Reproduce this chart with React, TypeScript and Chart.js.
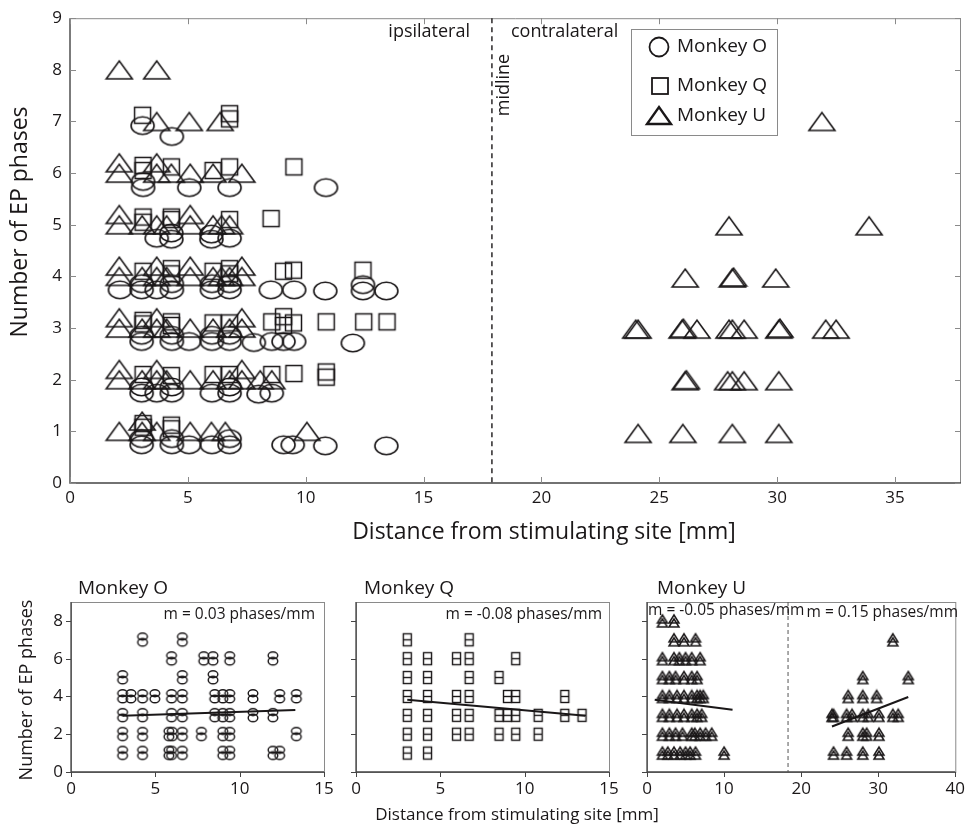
import React, { useEffect, useRef } from "react";
import { Chart, registerables } from "chart.js";
Chart.register(...registerables);

const FONT = "'Open Sans', 'Noto Sans', sans-serif";
const INK = "#1a1718";

// ---------- main chart data ----------
const mainTicksX = [0, 5, 10, 15, 20, 25, 30, 35];
const mainOX = [3.08, 4.32,
  3.1, 3.1, 5.06, 6.77, 10.86,
  3.68, 4.3, 4.3, 6.0, 6.0, 6.77,
  2.12, 3.04, 3.04, 3.68, 4.32, 4.32, 6.02, 6.02, 6.77, 6.77, 8.52, 9.51, 10.83, 12.43, 12.43, 13.42,
  3.04, 3.04, 4.32, 4.32, 5.05, 6.02, 6.02, 6.77, 6.77, 7.8, 8.56, 9.06, 9.51, 12.0,
  3.04, 3.04, 3.68, 4.32, 4.32, 6.02, 6.77, 6.77, 8.0, 8.56,
  3.04, 3.04, 4.32, 4.32, 5.05, 6.02, 6.77, 6.77, 9.06, 9.45, 10.83, 13.42];
const mainOY = [6.92, 6.71,
  5.72, 5.84, 5.72, 5.72, 5.72,
  4.74, 4.72, 4.84, 4.72, 4.82, 4.74,
  3.74, 3.74, 3.86, 3.74, 3.74, 3.86, 3.74, 3.86, 3.74, 3.86, 3.74, 3.74, 3.72, 3.72, 3.84, 3.72,
  2.74, 2.86, 2.74, 2.86, 2.74, 2.74, 2.86, 2.74, 2.86, 2.72, 2.74, 2.74, 2.74, 2.71,
  1.74, 1.86, 1.74, 1.74, 1.86, 1.74, 1.74, 1.86, 1.72, 1.74,
  0.74, 0.86, 0.74, 0.86, 0.74, 0.74, 0.74, 0.86, 0.74, 0.74, 0.72, 0.72];

const mainQX = [3.08, 6.77, 6.77,
  3.1, 3.1, 4.3, 6.07, 6.77, 9.5,
  3.1, 3.1, 4.3, 4.3, 6.77, 8.53,
  3.1, 4.3, 4.3, 6.07, 6.77, 6.77, 9.06, 9.48, 12.43,
  3.1, 3.1, 4.3, 4.3, 6.07, 6.77, 8.56, 9.06, 9.06, 9.48, 10.87, 12.46, 13.45,
  3.1, 4.3, 6.07, 6.77, 8.56, 9.5, 10.87, 10.87,
  3.1, 3.1, 4.3, 4.3];
const mainQY = [7.12, 7.05, 7.15,
  6.05, 6.15, 6.12, 6.05, 6.12, 6.12,
  5.05, 5.15, 5.1, 5.15, 5.1, 5.12,
  4.1, 4.05, 4.15, 4.1, 4.05, 4.15, 4.1, 4.12, 4.12,
  3.08, 3.15, 3.05, 3.12, 3.1, 3.1, 3.12, 3.05, 3.22, 3.1, 3.12, 3.12, 3.12,
  2.1, 2.08, 2.1, 2.1, 2.1, 2.12, 2.05, 2.15,
  1.08, 1.15, 1.05, 1.12];

const mainUX = [2.09, 3.68,
  3.68, 5.06, 6.37, 31.9,
  2.09, 3.68,
  2.09, 3.68, 4.3, 5.1, 6.07, 7.29,
  2.09, 5.1,
  2.09, 3.06, 3.68, 4.1, 5.1, 6.07, 6.43, 6.77,
  2.09, 3.68, 5.1, 7.29,
  2.09, 3.06, 3.68, 4.1, 5.1, 6.07, 6.43, 6.77, 7.29,
  2.09, 3.68, 7.29,
  2.09, 3.06, 3.68, 4.1, 5.1, 6.07, 6.77, 7.29,
  2.09, 3.68, 7.29,
  2.09, 3.06, 3.68, 4.1, 5.1, 6.07, 6.77, 7.29, 8.07, 8.56,
  3.06,
  2.09, 3.06, 3.68, 5.1, 6.0, 6.59, 10.05,
  27.96, 33.9,
  26.1, 28.1, 28.15, 29.94,
  24.0, 24.1, 25.97, 26.02, 26.6, 27.96, 28.1, 28.6, 30.07, 30.12, 32.06, 32.5,
  26.1, 26.15, 27.9, 28.1, 28.6, 30.07,
  24.1, 26.0, 28.1, 30.07];
const mainUY = [8, 8,
  7, 7, 7, 7,
  6.2, 6.2,
  6, 6, 6, 6, 6, 6,
  5.2, 5.2,
  5, 5, 5, 5, 5, 5, 5, 5,
  4.2, 4.2, 4.2, 4.2,
  4, 4, 4, 4, 4, 4, 4, 4, 4,
  3.2, 3.2, 3.2,
  3, 3, 3, 3, 3, 3, 3, 3,
  2.2, 2.2, 2.2,
  2, 2, 2, 2, 2, 2, 2, 2, 2, 2,
  1.2,
  1, 1, 1, 1, 1, 1, 1,
  4.98, 4.98,
  3.97, 3.97, 3.99, 3.97,
  2.98, 2.98, 2.98, 3.0, 2.98, 2.98, 2.98, 2.98, 2.98, 3.0, 2.98, 2.98,
  1.98, 2.0, 1.98, 1.98, 1.98, 1.98,
  0.96, 0.96, 0.96, 0.96];

// ---------- bottom panels data ----------
const botOX = [4.24, 6.6,
  5.96, 7.87, 8.42, 9.41, 11.97,
  3.06, 6.6, 8.42,
  3.06, 3.55, 4.24, 4.97, 5.96, 6.6, 8.52, 9.0, 9.41, 10.79, 12.37, 13.36,
  3.06, 4.24, 5.96, 6.6, 8.52, 9.0, 9.41, 10.79, 11.97,
  3.06, 4.24, 5.8, 6.0, 6.6, 7.73, 9.0, 9.41, 13.36,
  3.06, 4.24, 5.8, 5.96, 6.6, 9.0, 9.41, 11.97, 12.37];
const botOY = [7, 7,
  6, 6, 6, 6, 6,
  5, 5, 5,
  4, 4, 4, 4, 4, 4, 4, 4, 4, 4, 4, 4,
  3, 3, 3, 3, 3, 3, 3, 3, 3,
  2, 2, 2, 2, 2, 2, 2, 2, 2,
  1, 1, 1, 1, 1, 1, 1, 1, 1];
const fitOX = [3.06, 13.3];
const fitOY = [2.98, 3.28];

const botQX = [3.04, 6.71,
  3.04, 4.24, 5.96, 6.71, 9.47,
  3.04, 4.24, 6.71, 8.48,
  3.04, 4.24, 5.96, 6.71, 8.98, 9.47, 12.38,
  3.04, 4.24, 5.96, 6.71, 8.48, 8.98, 9.47, 10.8, 12.38, 13.4,
  3.04, 4.24, 5.96, 6.71, 8.48, 9.47, 10.8,
  3.04, 4.24];
const botQY = [7, 7,
  6, 6, 6, 6, 6,
  5, 5, 5, 5,
  4, 4, 4, 4, 4, 4, 4,
  3, 3, 3, 3, 3, 3, 3, 3, 3, 3,
  2, 2, 2, 2, 2, 2, 2,
  1, 1];
const fitQX = [3.04, 13.6];
const fitQY = [3.83, 2.98];

const botUX = [2.0, 3.5,
  3.5, 4.8, 6.3,
  2.0, 3.5, 4.2, 5.0, 5.8, 6.9,
  2.0, 2.9, 3.7, 4.8, 5.8, 6.5,
  2.0, 2.9, 3.9, 4.8, 5.8, 6.5, 6.9, 7.3,
  2.0, 2.9, 3.9, 4.8, 5.8, 6.5, 7.1,
  2.0, 2.9, 3.7, 4.6, 5.8, 6.2, 6.9, 7.6, 8.4,
  2.0, 2.7, 3.5, 4.3, 5.0, 5.6, 6.3, 10.0,
  31.9,
  28.0, 33.9,
  26.1, 28.0, 29.8,
  24.0, 24.2, 25.9, 26.6, 28.0, 28.7, 30.1, 31.9, 32.6,
  26.1, 28.0, 28.5, 30.1,
  24.2, 25.9, 28.0, 30.1];
const botUY = [8, 8,
  7, 7, 7,
  6, 6, 6, 6, 6, 6,
  5, 5, 5, 5, 5, 5,
  4, 4, 4, 4, 4, 4, 4, 4,
  3, 3, 3, 3, 3, 3, 3,
  2, 2, 2, 2, 2, 2, 2, 2, 2,
  1, 1, 1, 1, 1, 1, 1, 1,
  7,
  5, 5,
  4, 4, 4,
  3, 3, 3, 3, 3, 3, 3, 3, 3,
  2, 2, 2, 2,
  1, 1, 1, 1];
const fitULX = [1.0, 11.1];
const fitULY = [3.83, 3.3];
const fitURX = [24.0, 33.9];
const fitURY = [2.41, 3.97];

const MIDLINE_MAIN = 17.9;
const MIDLINE_U = 18.3;

const toPts = (xs: number[], ys: number[]) => xs.map((x, i) => ({ x, y: ys[i] }));

function makeCanvas(w: number, h: number, draw: (g: CanvasRenderingContext2D) => void) {
  const c = document.createElement("canvas");
  c.width = w;
  c.height = h;
  const g = c.getContext("2d")!;
  g.strokeStyle = INK;
  draw(g);
  return c;
}

function markers() {
  const ellipse = makeCanvas(27, 22, (g) => {
    g.lineWidth = 1.6;
    g.beginPath();
    g.ellipse(13.5, 11, 11.5, 8.8, 0, 0, Math.PI * 2);
    g.stroke();
  });
  const square = makeCanvas(21, 21, (g) => {
    g.lineWidth = 1.5;
    g.strokeRect(2.5, 2.5, 16, 16);
  });
  const tri = makeCanvas(30, 22, (g) => {
    g.lineWidth = 1.6;
    g.beginPath();
    g.moveTo(2, 20);
    g.lineTo(28, 20);
    g.lineTo(15, 2);
    g.closePath();
    g.stroke();
  });
  const smallO = makeCanvas(14, 17, (g) => {
    g.lineWidth = 1.4;
    g.beginPath();
    g.ellipse(7, 5.2, 4.8, 3.5, 0, 0, Math.PI * 2);
    g.stroke();
    g.beginPath();
    g.ellipse(7, 11, 4.8, 3.8, 0, 0, Math.PI * 2);
    g.stroke();
  });
  const smallQ = makeCanvas(13, 17, (g) => {
    g.lineWidth = 1.4;
    g.strokeRect(2.5, 2.5, 8, 12);
    g.beginPath();
    g.moveTo(2.5, 8.5);
    g.lineTo(10.5, 8.5);
    g.stroke();
  });
  const smallU = makeCanvas(14, 16, (g) => {
    g.lineWidth = 1.5;
    g.beginPath();
    g.moveTo(2, 10);
    g.lineTo(12, 10);
    g.lineTo(7, 2);
    g.closePath();
    g.stroke();
    g.beginPath();
    g.moveTo(2, 14);
    g.lineTo(12, 14);
    g.lineTo(7, 6);
    g.closePath();
    g.stroke();
  });
  return { ellipse, square, tri, smallO, smallQ, smallU };
}

function text(ctx: CanvasRenderingContext2D, s: string, x: number, y: number, size: number, align: CanvasTextAlign = "left", rot = 0) {
  ctx.save();
  ctx.fillStyle = INK;
  ctx.font = `${size}px ${FONT}`;
  ctx.textAlign = align;
  ctx.textBaseline = "middle";
  ctx.translate(x, y);
  if (rot) ctx.rotate(rot);
  ctx.fillText(s, 0, 0);
  ctx.restore();
}

function drawBox(ctx: CanvasRenderingContext2D, a: any) {
  ctx.lineWidth = 1;
  ctx.strokeStyle = "#8a8a8a";
  ctx.beginPath();
  ctx.moveTo(a.left, a.top + 0.5);
  ctx.lineTo(a.right - 0.5, a.top + 0.5);
  ctx.lineTo(a.right - 0.5, a.bottom);
  ctx.stroke();
  ctx.lineWidth = 1.4;
  ctx.strokeStyle = "#444";
  ctx.beginPath();
  ctx.moveTo(a.left, a.top);
  ctx.lineTo(a.left, a.bottom);
  ctx.lineTo(a.right, a.bottom);
  ctx.stroke();
}

export default function App() {
  const mainRef = useRef<HTMLCanvasElement>(null);
  const oRef = useRef<HTMLCanvasElement>(null);
  const qRef = useRef<HTMLCanvasElement>(null);
  const uRef = useRef<HTMLCanvasElement>(null);

  useEffect(() => {
    const m = markers();
    const charts: Chart[] = [];

    const mainPlugin = {
      id: "mainFrame",
      afterDraw(chart: any) {
        const { ctx, chartArea: a, scales } = chart;
        const x = scales.x, y = scales.y;
        ctx.save();
        drawBox(ctx, a);
        ctx.strokeStyle = "#8a8a8a";
        ctx.lineWidth = 1;
        mainTicksX.forEach((v) => {
          const px = Math.round(x.getPixelForValue(v)) + 0.5;
          ctx.beginPath();
          ctx.moveTo(px, a.bottom); ctx.lineTo(px, a.bottom - 6);
          ctx.moveTo(px, a.top); ctx.lineTo(px, a.top + 6);
          ctx.stroke();
        });
        for (let v = 0; v <= 9; v++) {
          const py = Math.round(y.getPixelForValue(v)) + 0.5;
          ctx.beginPath();
          ctx.moveTo(a.left, py); ctx.lineTo(a.left + 6, py);
          ctx.moveTo(a.right, py); ctx.lineTo(a.right - 6, py);
          ctx.stroke();
        }
        // midline
        const mx = x.getPixelForValue(MIDLINE_MAIN);
        ctx.strokeStyle = INK;
        ctx.lineWidth = 1.4;
        ctx.setLineDash([5, 4]);
        ctx.beginPath();
        ctx.moveTo(mx, a.top); ctx.lineTo(mx, a.bottom);
        ctx.stroke();
        ctx.setLineDash([]);
        text(ctx, "ipsilateral", 470, 32, 18, "right");
        text(ctx, "contralateral", 511, 32, 18, "left");
        text(ctx, "midline", 504, 85, 18, "center", -Math.PI / 2);
        // legend
        ctx.strokeStyle = "#8a8a8a";
        ctx.lineWidth = 1;
        ctx.strokeRect(631.5, 29.5, 146, 106);
        ctx.strokeStyle = INK;
        ctx.lineWidth = 1.8;
        ctx.beginPath();
        ctx.arc(659, 47, 9.5, 0, Math.PI * 2);
        ctx.stroke();
        ctx.strokeRect(652, 78, 16, 16);
        ctx.lineWidth = 2.4;
        ctx.beginPath();
        ctx.moveTo(647, 124); ctx.lineTo(671, 124); ctx.lineTo(659, 107); ctx.closePath();
        ctx.stroke();
        text(ctx, "Monkey O", 677, 47, 19);
        text(ctx, "Monkey Q", 677, 86, 19);
        text(ctx, "Monkey U", 677, 116, 19);
        // axis titles
        text(ctx, "Distance from stimulating site [mm]", 544, 532, 23, "center");
        text(ctx, "Number of EP phases", 20, 222, 23, "center", -Math.PI / 2);
        ctx.restore();
      },
    };

    const tickFont = (size: number) => ({ family: FONT, size });

    charts.push(new Chart(mainRef.current!, {
      type: "scatter",
      data: {
        datasets: [
          { data: toPts(mainUX, mainUY), pointStyle: m.tri as any, pointRadius: 6 },
          { data: toPts(mainQX, mainQY), pointStyle: m.square as any, pointRadius: 6 },
          { data: toPts(mainOX, mainOY), pointStyle: m.ellipse as any, pointRadius: 6 },
        ],
      },
      options: {
        animation: false,
        responsive: false,
        events: [],
        layout: { padding: { left: 0, top: 15, right: 11, bottom: 0 } },
        plugins: { legend: { display: false }, tooltip: { enabled: false } },
        scales: {
          x: {
            type: "linear", min: 0, max: 37.8,
            grid: { display: false, drawTicks: false }, border: { display: false },
            ticks: { stepSize: 5, includeBounds: false, font: tickFont(17), color: INK, padding: 5, maxRotation: 0 },
            afterFit: (s: any) => { s.height = 77; },
          },
          y: {
            type: "linear", min: 0, max: 9,
            grid: { display: false, drawTicks: false }, border: { display: false },
            ticks: { stepSize: 1, includeBounds: false, font: tickFont(17), color: INK, padding: 8 },
            afterFit: (s: any) => { s.width = 70; },
          },
        },
      },
      plugins: [mainPlugin],
    }));

    const makePanel = (
      canvas: HTMLCanvasElement,
      cfg: {
        left: number; right: number; yw: number; xMax: number; xStep: number; showY: boolean;
        pts: any[]; img: any; fits: { xs: number[]; ys: number[] }[];
        draw: (ctx: CanvasRenderingContext2D, chart: any) => void;
      }
    ) => {
      const plugin = {
        id: "panelFrame",
        afterDraw(chart: any) {
          const { ctx, chartArea: a, scales } = chart;
          ctx.save();
          ctx.lineWidth = 1;
          ctx.strokeStyle = "#8a8a8a";
          ctx.strokeRect(Math.round(a.left) + 0.5, Math.round(a.top) + 0.5, a.right - a.left, a.bottom - a.top);
          ctx.strokeStyle = "#444";
          ctx.lineWidth = 1.3;
          ctx.beginPath();
          ctx.moveTo(a.left, a.top); ctx.lineTo(a.left, a.bottom); ctx.lineTo(a.right, a.bottom);
          ctx.stroke();
          ctx.lineWidth = 1;
          for (let v = 0; v <= cfg.xMax; v += cfg.xStep) {
            const px = Math.round(scales.x.getPixelForValue(v)) + 0.5;
            ctx.beginPath(); ctx.moveTo(px, a.bottom); ctx.lineTo(px, a.bottom + 5); ctx.stroke();
          }
          for (let v = 0; v <= 8; v += 2) {
            const py = Math.round(scales.y.getPixelForValue(v)) + 0.5;
            ctx.beginPath(); ctx.moveTo(a.left, py); ctx.lineTo(a.left - 5, py); ctx.stroke();
          }
          cfg.draw(ctx, chart);
          ctx.restore();
        },
      };
      const fitSets = cfg.fits.map((f) => ({
        type: "line" as const, data: toPts(f.xs, f.ys), showLine: true,
        borderColor: INK, borderWidth: 2, pointRadius: 0,
      }));
      return new Chart(canvas, {
        type: "scatter",
        data: {
          datasets: [
            { data: cfg.pts, pointStyle: cfg.img, pointRadius: 5 },
            ...fitSets,
          ] as any,
        },
        options: {
          animation: false,
          responsive: false,
          events: [],
          layout: { padding: { left: cfg.left - cfg.yw, top: 32, right: 972 - cfg.right, bottom: 28 } },
          plugins: { legend: { display: false }, tooltip: { enabled: false } },
          scales: {
            x: {
              type: "linear", min: 0, max: cfg.xMax,
              grid: { display: false, drawTicks: false }, border: { display: false },
              ticks: { stepSize: cfg.xStep, includeBounds: false, font: tickFont(17), color: INK, padding: 7, maxRotation: 0 },
              afterFit: (s: any) => { s.height = 30; },
            },
            y: {
              type: "linear", min: 0, max: 9,
              grid: { display: false, drawTicks: false }, border: { display: false },
              ticks: { display: cfg.showY, stepSize: 2, includeBounds: false, font: tickFont(17), color: INK, padding: 8 },
              afterFit: (s: any) => { s.width = cfg.yw; },
            },
          },
        },
        plugins: [plugin],
      });
    };

    charts.push(makePanel(oRef.current!, {
      left: 71, right: 324, yw: 36, xMax: 15, xStep: 5, showY: true,
      pts: toPts(botOX, botOY), img: m.smallO, fits: [{ xs: fitOX, ys: fitOY }],
      draw: (ctx) => {
        text(ctx, "Monkey O", 78, 19, 19);
        text(ctx, "m = 0.03 phases/mm", 315, 45, 15.5, "right");
        text(ctx, "Number of EP phases", 27, 120, 18, "center", -Math.PI / 2);
      },
    }));
    charts.push(makePanel(qRef.current!, {
      left: 356, right: 609, yw: 0, xMax: 15, xStep: 5, showY: false,
      pts: toPts(botQX, botQY), img: m.smallQ, fits: [{ xs: fitQX, ys: fitQY }],
      draw: (ctx) => {
        text(ctx, "Monkey Q", 364, 19, 19);
        text(ctx, "m = -0.08 phases/mm", 602, 45, 15.5, "right");
        text(ctx, "Distance from stimulating site [mm]", 517, 245, 17, "center");
      },
    }));
    charts.push(makePanel(uRef.current!, {
      left: 647, right: 962, yw: 0, xMax: 40, xStep: 10, showY: false,
      pts: toPts(botUX, botUY), img: m.smallU,
      fits: [{ xs: fitULX, ys: fitULY }, { xs: fitURX, ys: fitURY }],
      draw: (ctx, chart) => {
        const a = chart.chartArea;
        const mx = chart.scales.x.getPixelForValue(MIDLINE_U);
        ctx.strokeStyle = "#555";
        ctx.lineWidth = 1;
        ctx.setLineDash([4, 3]);
        ctx.beginPath(); ctx.moveTo(mx, a.top); ctx.lineTo(mx, a.bottom); ctx.stroke();
        ctx.setLineDash([]);
        text(ctx, "Monkey U", 657, 19, 19);
        text(ctx, "m = -0.05 phases/mm", 648, 41, 15.5, "left");
        text(ctx, "m = 0.15 phases/mm", 958, 43, 15.5, "right");
      },
    }));

    return () => charts.forEach((c) => c.destroy());
  }, []);

  const cs = (top: number, h: number): React.CSSProperties => ({
    position: "absolute", left: 0, top, width: 972, height: h,
  });

  return (
    <div style={{ position: "absolute", left: 0, top: 0, width: 972, height: 830, background: "#fff" }}>
      <canvas ref={mainRef} width={972} height={560} style={cs(0, 560)} />
      <canvas ref={oRef} width={972} height={260} style={cs(570, 260)} />
      <canvas ref={qRef} width={972} height={260} style={cs(570, 260)} />
      <canvas ref={uRef} width={972} height={260} style={cs(570, 260)} />
    </div>
  );
}
